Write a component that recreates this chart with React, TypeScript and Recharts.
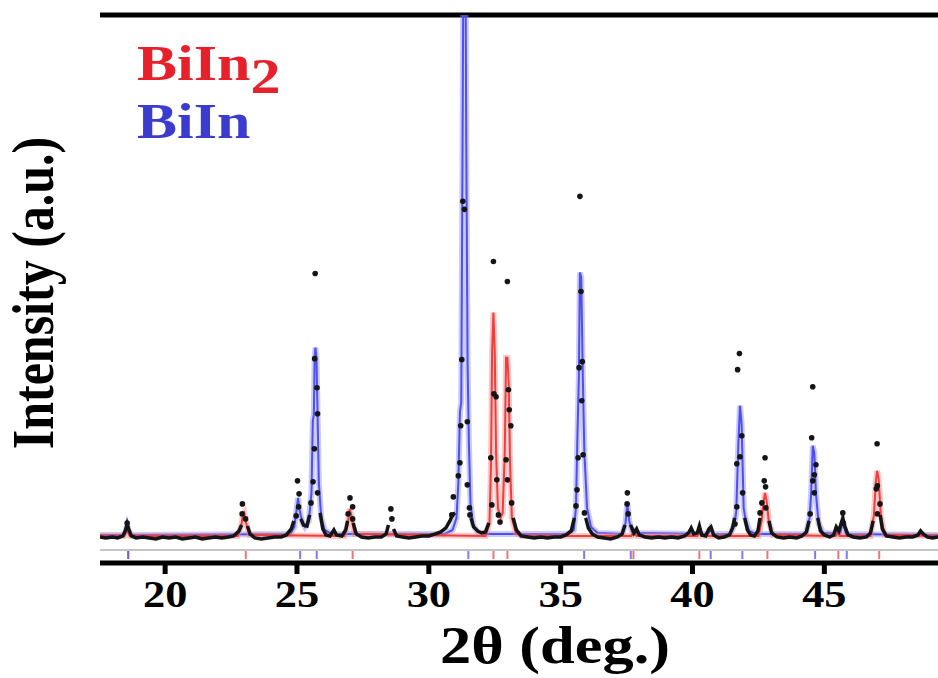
import React from "react";
import {
  ComposedChart,
  Line,
  Scatter,
  XAxis,
  YAxis,
  ReferenceLine,
} from "recharts";

// calculated profile, BiIn (blue)
const biInX = [
  17.53, 18.4, 18.5, 18.56, 18.63, 18.75, 24.75, 24.9, 24.98, 25.04, 25.1, 25.2,
  25.3, 25.45, 25.55, 25.6, 25.64, 25.67, 25.7, 25.74, 25.78, 25.83, 25.92,
  26.05, 26.3, 30.6, 30.9, 31.05, 31.12, 31.18, 31.23, 31.28, 31.31, 31.39,
  31.42, 31.47, 31.52, 31.58, 31.68, 31.85, 32.1, 35.3, 35.5, 35.58, 35.63,
  35.69, 35.73, 35.78, 35.84, 35.9, 36.0, 36.15, 36.4, 37.35, 37.46, 37.53,
  37.6, 37.72, 40.6, 40.68, 40.78, 41.45, 41.6, 41.66, 41.74, 41.8, 41.86,
  41.94, 42.0, 42.15, 42.4, 44.3, 44.44, 44.5, 44.56, 44.62, 44.68, 44.78,
  44.95, 45.6, 45.7, 45.82, 49.31,
];
const biInY = [
  28, 28, 31, 37, 31, 28, 29, 36, 52, 65, 53, 40, 36, 42, 70, 142, 148, 205,
  215, 205, 150, 80, 45, 33, 29, 29, 33, 45, 80, 151, 160, 420, 600, 600, 420,
  200, 120, 60, 38, 31, 29, 29, 33, 55, 120, 185, 290, 285, 185, 110, 55, 36,
  30, 29, 40, 59, 42, 30, 29, 34, 29, 29, 40, 52, 120, 157, 140, 55, 45, 32,
  29, 29, 45, 70, 117, 110, 70, 40, 30, 29, 42, 29, 28,
];

// calculated profile, BiIn2 (red)
const biIn2X = [
  17.53, 18.45, 18.56, 18.66, 22.75, 22.88, 22.95, 23.0, 23.07, 23.2, 26.8,
  26.92, 27.0, 27.06, 27.18, 32.15, 32.3, 32.36, 32.4, 32.45, 32.5, 32.55,
  32.62, 32.72, 32.8, 32.88, 32.93, 32.98, 33.03, 33.08, 33.15, 33.3, 33.5,
  37.68, 37.78, 37.88, 40.18, 40.26, 40.35, 42.5, 42.62, 42.7, 42.75, 42.81,
  42.9, 43.05, 45.43, 45.5, 45.58, 46.75, 46.88, 46.95, 47.0, 47.06, 47.14,
  47.28, 49.31,
];
const biIn2Y = [
  27, 27, 33, 27, 27, 36, 48, 50, 40, 28, 27, 38, 54, 48, 29, 27, 40, 100, 212,
  250, 212, 110, 55, 45, 50, 110, 205, 205, 180, 100, 45, 30, 27, 27, 31, 27,
  27, 31, 27, 27, 42, 62, 70, 62, 40, 28, 27, 32, 27, 27, 48, 80, 92, 84, 48,
  28, 27,
];

// observed pattern: dense background trace (null = peak, shown as dots)
const obsX = [
  17.53, 17.75, 18.0, 18.2, 18.4, 18.5, 18.56, 18.63, 18.72, 18.9, 19.15, 19.4,
  19.65, 19.9, 20.15, 20.4, 20.65, 20.9, 21.15, 21.4, 21.65, 21.9, 22.15, 22.4,
  22.6, 22.8, 22.9, 22.95, 23.12, 23.22, 23.4, 23.65, 23.9, 24.15, 24.4, 24.6,
  24.78, 24.88, 24.95, 25.15, 25.25, 25.38, 25.48, 25.6, 25.88, 25.98, 26.1,
  26.25, 26.4, 26.5, 26.7, 26.85, 26.92, 27.0, 27.13, 27.25, 27.45, 27.7,
  27.95, 28.2, 28.38, 28.47, 28.55, 28.66, 28.78, 29.0, 29.25, 29.5, 29.75,
  30.0, 30.25, 30.45, 30.65, 30.8, 30.9, 31.0, 31.1, 31.6, 31.7, 31.85, 32.0,
  32.15, 32.28, 32.35, 33.2, 33.32, 33.5, 33.75, 34.0, 34.25, 34.5, 34.75,
  35.0, 35.2, 35.4, 35.52, 35.6, 35.95, 36.05, 36.2, 36.4, 36.65, 36.9, 37.15,
  37.33, 37.44, 37.5, 37.65, 37.78, 37.88, 37.98, 38.2, 38.45, 38.7, 38.95,
  39.2, 39.45, 39.7, 39.85, 39.95, 40.05, 40.18, 40.26, 40.35, 40.5, 40.62,
  40.7, 40.8, 41.0, 41.2, 41.4, 41.52, 41.6, 41.65, 41.98, 42.08, 42.2, 42.35,
  42.48, 42.56, 42.62, 42.9, 43.0, 43.2, 43.45, 43.7, 43.95, 44.15, 44.32,
  44.42, 44.48, 44.75, 44.85, 45.0, 45.2, 45.35, 45.45, 45.55, 45.62, 45.7,
  45.78, 45.9, 46.1, 46.35, 46.6, 46.75, 46.85, 46.92, 47.12, 47.2, 47.35,
  47.6, 47.85, 48.1, 48.35, 48.55, 48.65, 48.75, 48.9, 49.1, 49.31,
];
const obsY = [
  26, 25, 26, 25, 27, 33, 39, 33, 27, 25, 26, 25, 24, 26, 25, 26, 24, 25, 26,
  24, 25, 26, 25, 26, 27, 32, 38, null, 37, 29, 25, 24, 25, 26, 26, 28, 34, 42,
  null, 44, 38, 37, 48, null, 50, 34, 28, 27, 33, 28, 27, 33, 42, null, 40, 29,
  26, 25, 26, 26, 29, 38, null, 34, 27, 26, 25, 26, 27, 27, 29, 31, 35, 42, 48,
  50, null, 45, 36, 32, 30, 31, 40, null, 45, 33, 27, 26, 25, 26, 25, 26, 26,
  28, 32, 45, null, 45, 35, 29, 26, 25, 24, 26, 29, 38, null, 38, 30, 34, 28,
  26, 25, 26, 25, 26, 25, 27, 30, 35, 29, 30, 37, 28, 27, 34, 36, 28, 25, 26,
  28, 35, 45, null, 45, 33, 28, 27, 32, 45, null, 42, 30, 26, 25, 26, 25, 27,
  31, 42, null, 45, 32, 28, 26, 28, 36, 32, 38, 45, 36, 28, 26, 25, 26, 30, 42,
  null, 48, 34, 27, 26, 25, 26, 26, 28, 32, 29, 26, 25, 26,
];

// observed points on the peaks
const dotX = [
  18.56, 22.93, 22.92, 23.05, 24.97, 25.02, 25.08, 25.06, 25.53, 25.61, 25.66,
  25.67, 25.69, 25.76, 25.78, 25.78, 27.01, 27.11, 26.94, 27.11, 28.56, 28.6,
  30.87, 30.93, 31.12, 31.18, 31.21, 31.25, 31.29, 31.35, 31.46, 31.46, 31.54,
  31.56, 32.35, 32.39, 32.45, 32.47, 32.55, 32.58, 32.64, 32.7, 32.93, 32.98,
  32.98, 33.02, 33.05, 33.11, 33.14, 35.58, 35.62, 35.66, 35.7, 35.73, 35.77,
  35.8, 35.82, 35.85, 35.9, 37.53, 37.52, 37.56, 41.61, 41.68, 41.68, 41.71,
  41.78, 41.8, 41.87, 41.9, 42.56, 42.63, 42.72, 42.75, 42.77, 42.78, 44.46,
  44.52, 44.56, 44.56, 44.62, 44.62, 44.68, 45.7, 45.72, 47.0, 47.01, 46.97,
  47.11, 47.01,
];
const dotY = [
  40, 59, 49, 44, 47, 82, 69, 56, 60, 81, 114, 204, 289, 175, 149, 70, 65, 56,
  49, 44, 54, 44, 48, 66, 87, 100, 137, 203, 361, 353, 141, 78, 55, 48, 105, 58,
  301, 169, 166, 83, 48, 41, 103, 281, 83, 173, 153, 137, 60, 57, 73, 105, 195,
  366, 271, 162, 201, 108, 50, 70, 59, 49, 39, 56, 99, 193, 209, 106, 127, 70,
  50, 60, 82, 105, 76, 55, 49, 125, 176, 82, 88, 70, 98, 50, 40, 119, 77, 74,
  59, 49,
];

// Bragg reflection positions
const biIn2Refl = [18.6, 23.06, 27.11, 32.45, 32.98, 37.76, 40.26, 42.84, 45.53, 47.08];
const biInRefl = [18.6, 25.12, 25.75, 31.5, 35.89, 37.66, 40.69, 41.89, 44.65, 45.85];

const xTicks = [20, 25, 30, 35, 40, 45];

const zip = (xs: number[], ys: (number | null)[]) =>
  xs.map((x, i) => ({ x, y: ys[i] }));

const SERIF = "'Liberation Serif', 'Times New Roman', serif";

const XTick = ({ x, y, payload }: any) => (
  <g transform={`translate(${x},${y}) scale(1.2,1)`}>
    <text
      x={0}
      y={0}
      dy={31}
      textAnchor="middle"
      fontFamily={SERIF}
      fontWeight="bold"
      fontSize={37}
      fill="#000"
    >
      {payload.value}
    </text>
  </g>
);

const ReflMark = ({ cx, cy, fill }: any) => (
  <line x1={cx} x2={cx} y1={cy - 4} y2={cy + 4} stroke={fill} strokeWidth={2} strokeOpacity={0.75} />
);

const ObsDot = ({ cx, cy }: any) => <circle cx={cx} cy={cy} r={2.8} fill="#151515" />;

export default function App() {
  const blue = zip(biInX, biInY);
  const red = zip(biIn2X, biIn2Y);
  const obs = zip(obsX, obsY);
  const dots = zip(dotX, dotY);
  const reflRed = biIn2Refl.map((x) => ({ x, y: 8 }));
  const reflBlue = biInRefl.map((x) => ({ x, y: 8 }));

  return (
    <div style={{ position: "absolute", left: 0, top: 0, width: 938, height: 678, background: "#fff" }}>
      <ComposedChart
        width={938}
        height={678}
        margin={{ top: 15, right: 0, bottom: 15, left: 100 }}
      >
        <XAxis
          dataKey="x"
          type="number"
          domain={[17.53, 49.31]}
          ticks={xTicks}
          allowDataOverflow
          height={100}
          tickSize={11}
          axisLine={{ stroke: "#000", strokeWidth: 5 }}
          tickLine={{ stroke: "#000", strokeWidth: 5 }}
          tick={<XTick />}
        />
        <YAxis
          type="number"
          domain={[0, 547]}
          allowDataOverflow
          width={0}
          tick={false}
          tickLine={false}
          axisLine={{ stroke: "#000", strokeWidth: 6 }}
        />
        <ReferenceLine y={547} stroke="#000" strokeWidth={5} />
        <ReferenceLine y={13} stroke="#c4c4c4" strokeWidth={2} />
        <Scatter data={reflRed} dataKey="y" fill="#ee4444" shape={<ReflMark />} isAnimationActive={false} />
        <Scatter data={reflBlue} dataKey="y" fill="#5050ee" shape={<ReflMark />} isAnimationActive={false} />
        {/* soft halo under each calculated profile */}
        <Line data={blue} dataKey="y" type="linear" stroke="#8c8cf5" strokeOpacity={0.45} strokeWidth={6} dot={false} isAnimationActive={false} />
        <Line data={blue} dataKey="y" type="linear" stroke="#4f4fee" strokeWidth={2} dot={false} isAnimationActive={false} />
        <Line data={red} dataKey="y" type="linear" stroke="#f58a8a" strokeOpacity={0.45} strokeWidth={6} dot={false} isAnimationActive={false} />
        <Line data={red} dataKey="y" type="linear" stroke="#ee3f3f" strokeWidth={2} dot={false} isAnimationActive={false} />
        <Line
          data={obs}
          dataKey="y"
          type="linear"
          stroke="#151515"
          strokeWidth={3.5}
          dot={false}
          connectNulls={false}
          isAnimationActive={false}
        />
        <Scatter data={dots} dataKey="y" shape={<ObsDot />} isAnimationActive={false} />
      </ComposedChart>
      <svg
        width={938}
        height={678}
        style={{ position: "absolute", left: 0, top: 0, pointerEvents: "none" }}
      >
        <g fontFamily={SERIF} fontWeight="bold">
          <text transform="translate(137,80) scale(1.2,1)" fontSize={50} fill="#e8202a">
            BiIn<tspan dy={13}>2</tspan>
          </text>
          <text transform="translate(137,138) scale(1.2,1)" fontSize={50} fill="#3b3bd0">
            BiIn
          </text>
          <text transform="translate(555,663) scale(1.2,1)" fontSize={52} fill="#000" textAnchor="middle">
            2θ (deg.)
          </text>
          <text transform="translate(53,293) scale(1.2,1) rotate(-90)" fontSize={50} fill="#000" textAnchor="middle">
            Intensity (a.u.)
          </text>
        </g>
      </svg>
    </div>
  );
}
